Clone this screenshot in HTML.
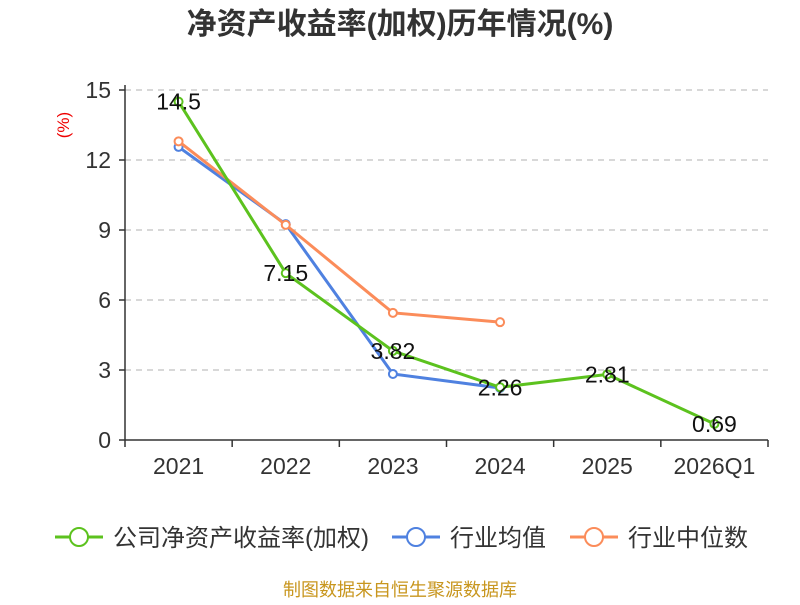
<!DOCTYPE html>
<html><head><meta charset="utf-8"><style>
body{margin:0;background:#fff;}
svg text{font-family:"Liberation Sans","Noto Sans CJK SC",sans-serif;}
</style></head><body>
<svg id="c" width="800" height="600" xmlns="http://www.w3.org/2000/svg">
<text x="400" y="34" text-anchor="middle" font-size="30" font-weight="bold" fill="#333">净资产收益率(加权)历年情况(%)</text>
<text x="69" y="125" text-anchor="middle" font-size="17" fill="#e00" transform="rotate(-90 69 125)">(%)</text>
<g id="grid"></g><g id="axes"></g><g id="series"></g>
<g>
<g><line x1="55" y1="537" x2="103" y2="537" stroke="#5cc21e" stroke-width="3"/><circle cx="79" cy="537" r="9" fill="#fff" stroke="#5cc21e" stroke-width="2"/><text x="113" y="546" font-size="24" fill="#333">公司净资产收益率(加权)</text></g>
<g><line x1="392" y1="537" x2="440" y2="537" stroke="#4f81e0" stroke-width="3"/><circle cx="416" cy="537" r="9" fill="#fff" stroke="#4f81e0" stroke-width="2"/><text x="450" y="546" font-size="24" fill="#333">行业均值</text></g>
<g><line x1="570" y1="537" x2="618" y2="537" stroke="#fb8c5a" stroke-width="3"/><circle cx="594" cy="537" r="9" fill="#fff" stroke="#fb8c5a" stroke-width="2"/><text x="628" y="546" font-size="24" fill="#333">行业中位数</text></g>
</g>
<text x="400" y="596" text-anchor="middle" font-size="18" fill="#c8961e">制图数据来自恒生聚源数据库</text>
</svg>
<script>
const categories=["2021","2022","2023","2024","2025","2026Q1"];
const companyValues=[14.5,7.15,3.82,2.26,2.81,0.69];
const companyLabels=["14.5","7.15","3.82","2.26","2.81","0.69"];
const meanValues=[12.56,9.25,2.83,2.23];
const medianValues=[12.8,9.22,5.45,5.05];
const yTicks=[0,3,6,9,12,15];
const NS="http://www.w3.org/2000/svg";
const x0=125,x1=768,yTop=90,yBot=440,yMax=15;
const bw=(x1-x0)/categories.length;
const xs=i=>x0+bw*(i+0.5);
const ys=v=>yBot-(v/yMax)*(yBot-yTop);
function mk(t,a,p){const e=document.createElementNS(NS,t);for(const k in a)e.setAttribute(k,a[k]);p.appendChild(e);return e;}
const grid=document.getElementById('grid'),axes=document.getElementById('axes'),ser=document.getElementById('series');
yTicks.forEach(v=>{
 if(v>0){const g=mk('line',{x1:x0,x2:x1,y1:ys(v),y2:ys(v),stroke:'#ccc','stroke-width':1.5,'stroke-dasharray':'6,5'},grid);
 
 }
 const tk=mk('line',{x1:x0-6,x2:x0,y1:ys(v),y2:ys(v),stroke:'#333','stroke-width':1.5},axes);
 
 
 const t=mk('text',{x:x0-14,y:ys(v)+8,'text-anchor':'end','font-size':23,fill:'#333'},axes);t.textContent=v;
 
 
});
const ya=mk('line',{x1:x0,x2:x0,y1:yTop-5,y2:yBot,stroke:'#333','stroke-width':1.5},axes);


const xa=mk('line',{x1:x0,x2:x1,y1:yBot,y2:yBot,stroke:'#333','stroke-width':1.5},axes);


for(let i=0;i<=categories.length;i++){const l=mk('line',{x1:x0+bw*i,x2:x0+bw*i,y1:yBot,y2:yBot+7,stroke:'#333','stroke-width':1.5},axes);
 
 }
categories.forEach((c,i)=>{const t=mk('text',{x:xs(i),y:yBot+34,'text-anchor':'middle','font-size':23,fill:'#333'},axes);t.textContent=c;
 
 });
function series(vals,color,name){
 const g=mk('g',{},ser);
 
 
 const p=mk('polyline',{points:vals.map((v,i)=>xs(i)+','+ys(v)).join(' '),fill:'none',stroke:color,'stroke-width':3},g);
 
 
 vals.forEach((v,i)=>{const c=mk('circle',{cx:xs(i),cy:ys(v),r:4,fill:'#fff',stroke:color,'stroke-width':2},g);
 
 });
 return g;
}
series(meanValues,'#4f81e0','industry-mean');
series(medianValues,'#fb8c5a','industry-median');
const cg=series(companyValues,'#5cc21e','company-roe');
companyValues.forEach((v,i)=>{const t=mk('text',{x:xs(i),y:ys(v)+8,'text-anchor':'middle','font-size':23,fill:'#111'},cg);t.textContent=companyLabels[i];
 
 });
</script>
</body></html>
